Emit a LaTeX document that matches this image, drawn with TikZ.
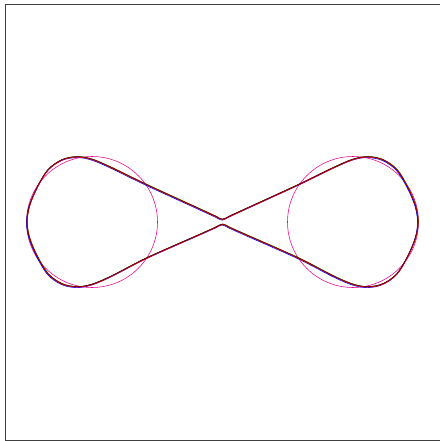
\documentclass[tikz,border=0pt]{standalone}
\begin{document}
\begin{tikzpicture}[x=1pt,y=-1pt,
  frame/.style={draw=black!75,line width=0.9pt},
  ring/.style={draw=magenta,line width=0.55pt},
  curve/.style={line width=0.6pt,line join=round}]
\useasboundingbox (0,0) rectangle (439,441);
% frame
\draw[frame] (439.5,4.5) -- (5.5,4.5) -- (5.5,440) -- (439.5,440);
% circles
\draw[ring] (92,222) circle[radius=65.5];
\draw[ring] (353,222) circle[radius=65.5];
% figure-eight curves
\foreach \c/\dx/\dy in {green!50!black/0.3/-0.5, black/-0.3/-0.2, blue/-0.4/0.6, red/0.2/0.1, red!55!black/0/-0.3}{
\draw[curve,draw=\c,shift={(\dx,\dy)}] plot[smooth cycle,tension=0.55] coordinates {
 (222.5,219.6) (215,216.2) (200,209.3) (147,185) (112,168) (92,159.5) (77,157) (62,160) (48,170) (37,188) (29.5,206) (27,222) (29.5,238) (37,256) (48,274) (62,284) (77,287) (92,284.5) (112,276) (147,258) (200,234.5) (215,227.8)
 (222.5,224.4)
 (230,227.8) (245,234.5) (298,258) (333,276) (353,284.5) (368,287) (383,284) (397,274) (408,256) (415.5,238) (418,222) (415.5,206) (408,188) (397,170) (383,160) (368,157) (353,159.5) (333,168) (298,185) (245,209.3) (230,216.2)
};}
\end{tikzpicture}
\end{document}
